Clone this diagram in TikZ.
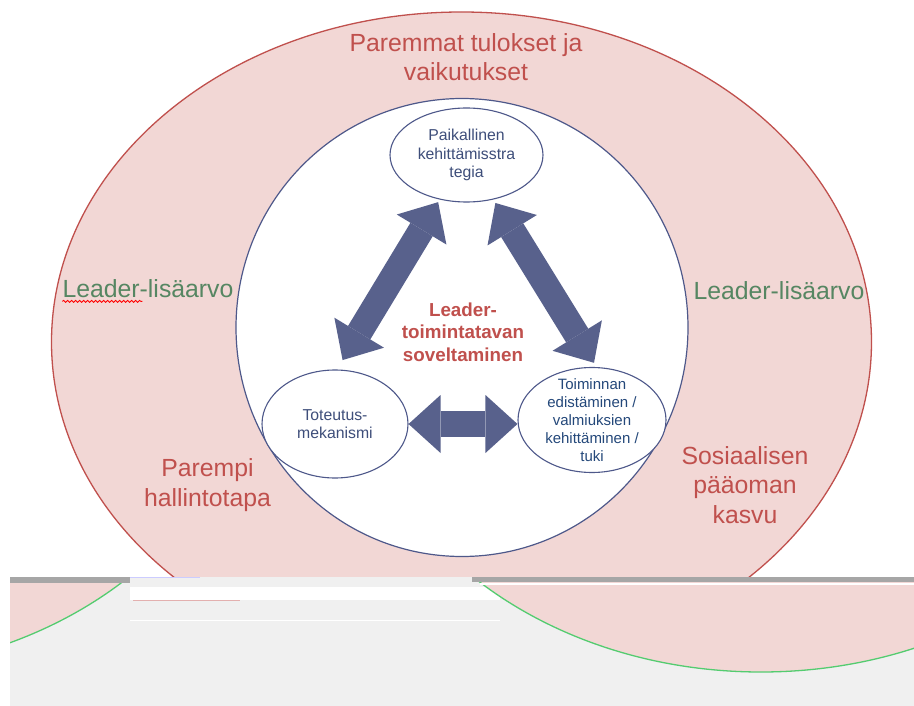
\documentclass[tikz,border=0pt]{standalone}
\usepackage{fontspec}
\setmainfont{Liberation Sans}
\usepackage{tikz}
\usetikzlibrary{shapes.geometric, arrows.meta, decorations.pathmorphing}
\definecolor{leader-red}{RGB}{192,80,77}
\definecolor{leader-pink}{RGB}{242,215,213}
\definecolor{leader-green}{RGB}{86,134,98}
\definecolor{leader-navy}{RGB}{78,88,138}
\definecolor{leader-arrow}{RGB}{88,97,140}
\definecolor{leader-text}{RGB}{62,78,122}
\definecolor{leader-blue}{RGB}{36,72,122}
\definecolor{scr-grey}{RGB}{240,240,240}
\definecolor{scr-bar}{RGB}{166,166,166}
\definecolor{scr-green}{RGB}{84,204,112}

\begin{document}
\begin{tikzpicture}[
    x=1pt, y=-1pt,
    tavoite/.style={font=\fontsize{24.8}{29.5}\selectfont, text=leader-red, align=center, inner sep=0pt},
    lisaarvo/.style={font=\fontsize{24.8}{29.5}\selectfont, text=leader-green, inner sep=0pt},
    osa/.style={ellipse, draw=leader-navy, fill=white, line width=1.1pt, inner sep=0pt},
    osateksti/.style={font=\fontsize{15.8}{18.5}\selectfont, text=leader-text, align=center, inner sep=0pt},
    nuoli/.style={draw=leader-arrow, line width=26pt,
        arrows={Triangle[length=32pt, width=58pt, line width=0pt]-Triangle[length=32pt, width=58pt, line width=0pt]}}
]
    \useasboundingbox[fill=white] (0,0) rectangle (914,706);

    % Renkaat
    \begin{scope}
        \clip (0,0) rectangle (914,577);
        \draw[fill=leader-pink, draw=leader-red, line width=1.3pt] (461.5,342) ellipse [x radius=410, y radius=330];
        \draw[fill=white, draw=leader-navy, line width=1.2pt] (462,327.5) ellipse [x radius=226, y radius=229];
    \end{scope}

    % Alareunan kuvakaappaus
    \fill[scr-grey] (10,577) rectangle (914,706);
    \fill[white] (130,587) rectangle (500,600);
    \fill[white] (130,619.5) rectangle (500,621);
    \draw[leader-red!45, line width=1pt] (133,600.5) -- (240,600.5);
    \begin{scope}
        \clip (10,577) rectangle (914,706);
        \draw[fill=leader-pink, draw=scr-green, line width=1.3pt] (-159,342) ellipse [x radius=410, y radius=330];
        \draw[fill=leader-pink, draw=scr-green, line width=1.3pt] (761,342) ellipse [x radius=410, y radius=330];
    \end{scope}
    \fill[scr-bar] (10,577) rectangle (130,583);
    \fill[scr-bar] (472,577) rectangle (914,582);
    \fill[white] (480,583) rectangle (914,584.5);
    \draw[blue!20, line width=1pt] (130,577.5) -- (200,577.5);

    % Osat
    \node[osa, minimum width=153, minimum height=94] (pks) at (466.5,155) {};
    \node[osa, minimum width=146, minimum height=108] (tot) at (335,424) {};
    \node[osa, minimum width=148, minimum height=105] (tmn) at (592,420) {};

    \node[osateksti] (pks-t) at (pks) {Paikallinen\\kehittämisstra\\tegia};
    \node[osateksti] (tot-t) at (tot) {Toteutus-\\mekanismi};
    \node[osateksti, text=leader-blue, font=\fontsize{15}{18}\selectfont] (tmn-t) at (tmn) {Toiminnan\\edistäminen /\\valmiuksien\\kehittäminen /\\tuki};

    \draw[nuoli, shorten <=3pt, shorten >=11pt] (pks.239) -- (tot.88);
    \draw[nuoli, shorten <=4pt, shorten >=5pt] (pks.301) -- (tmn.85);
    \draw[nuoli] (tot.east) -- (tot.east -| tmn.west);

    \node[tavoite, font=\fontsize{18.8}{22.5}\selectfont\bfseries] (ydin) at (463,332) {Leader-\\toimintatavan\\soveltaminen};

    % Tekstit
    \node[tavoite] (tulos) at (466,57) {Paremmat tulokset ja\\vaikutukset};
    \node[tavoite] (hallinto) at (207.5,485) {Parempi\\hallintotapa};
    \node[tavoite] (paaoma) at (745,485) {Sosiaalisen\\pääoman\\kasvu};
    \node[lisaarvo] (lisa-v) at (148,289) {Leader-lisäarvo};
    \node[lisaarvo] (lisa-o) at (779,291) {Leader-lisäarvo};
    \draw[red, line width=0.8pt, decorate, decoration={snake, amplitude=1pt, segment length=4pt}]
        ([yshift=-3.5pt]lisa-v.base west) -- ++(80,0);
\end{tikzpicture}
\end{document}
